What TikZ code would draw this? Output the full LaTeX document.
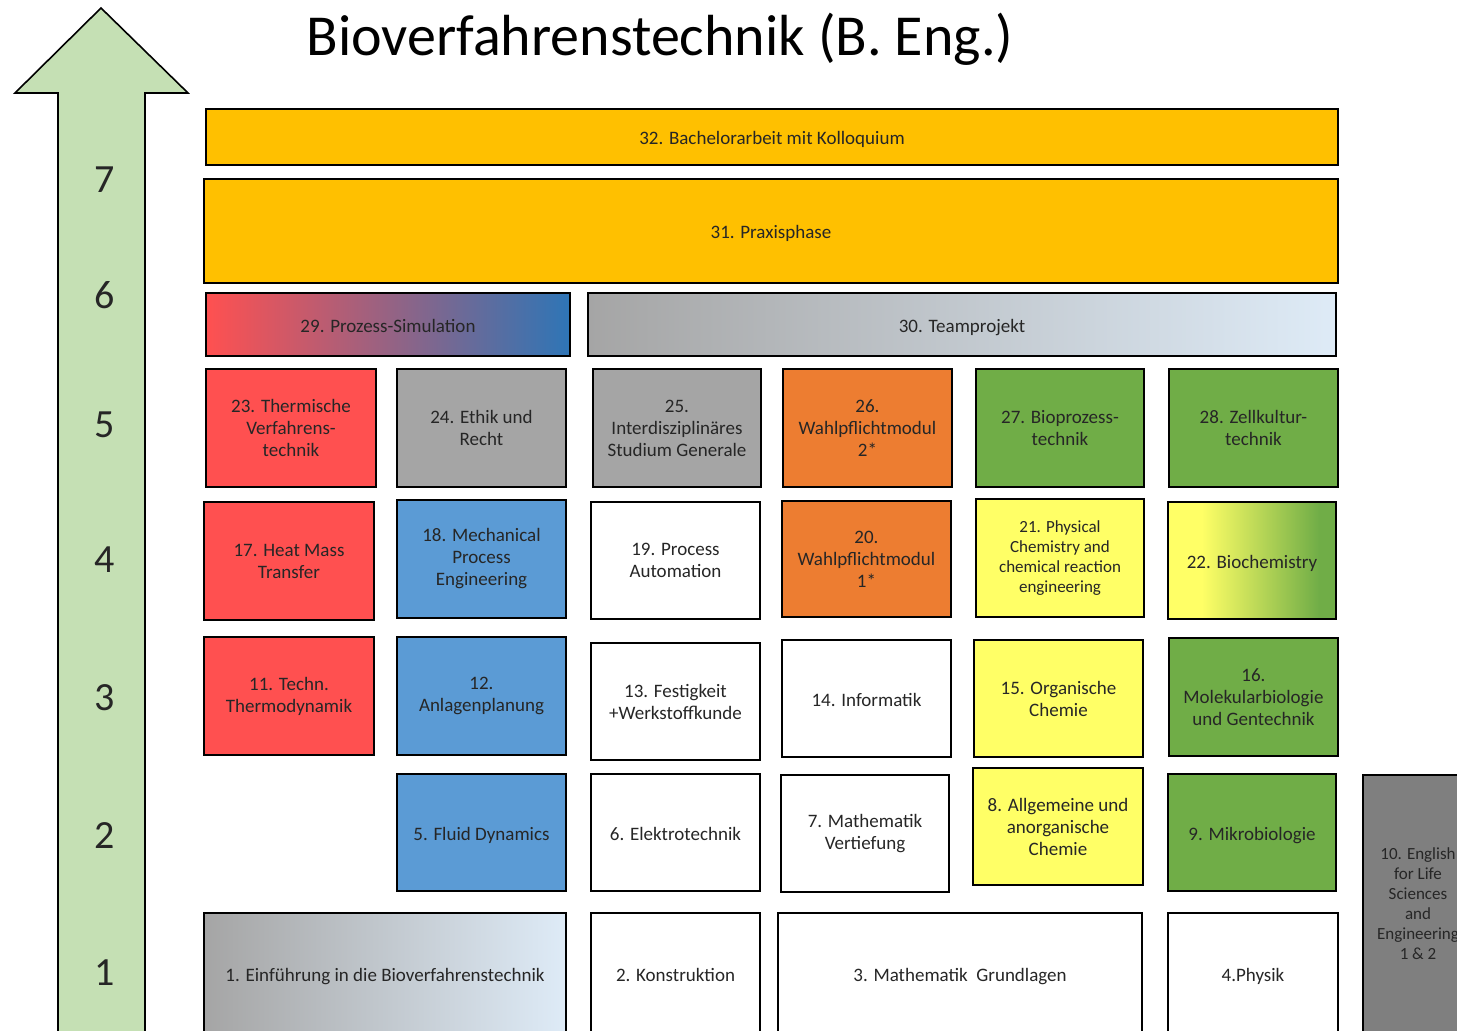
\documentclass[tikz,border=0pt]{standalone}
\usepackage{fontspec}
\setmainfont{Carlito}
\definecolor{mred}{HTML}{FF5050}
\definecolor{mblue}{HTML}{5B9BD5}
\definecolor{mgray}{HTML}{A5A5A5}
\definecolor{morange}{HTML}{ED7D31}
\definecolor{mgreen}{HTML}{70AD47}
\definecolor{myellow}{HTML}{FFFF66}
\definecolor{mamber}{HTML}{FFC000}
\definecolor{mdgray}{HTML}{7F7F7F}
\definecolor{mlblue}{HTML}{DEEBF7}
\definecolor{mdblue}{HTML}{2E75B6}
\definecolor{arrowgreen}{HTML}{C5E0B4}
\definecolor{txt}{HTML}{262626}
\pgfdeclarehorizontalshading{biochem}{100bp}{color(0bp)=(myellow); color(35bp)=(myellow); color(70bp)=(mgreen); color(100bp)=(mgreen)}
\newcommand\modbox[7]{\node[modstyle,#6,minimum width={(#4-#2)*0.5pt},minimum height={(#5-#3)*0.5pt}] (#1) at ({(#2+#4)/2},{(#3+#5)/2}) {#7};}
\tikzset{
  modstyle/.style={draw=black, line width=1.4pt, align=center, text=txt, inner sep=1pt, font=\fontsize{9.5}{11}\selectfont},
  smalltext/.style={font=\fontsize{8.5}{10}\selectfont},
  oneline/.style={text height=8pt, text depth=0pt},
  semnum/.style={font=\fontsize{20}{24}\selectfont, text=black!85},
  red/.style={fill=mred}, blue/.style={fill=mblue}, gray/.style={fill=mgray},
  orange/.style={fill=morange}, green/.style={fill=mgreen}, yellow/.style={fill=myellow},
  amber/.style={fill=mamber}, white/.style={fill=white}
}
\begin{document}
\begin{tikzpicture}[x=0.5pt,y=-0.5pt]
\useasboundingbox (0,0) rectangle (1457,1031);
\fill[white] (0,0) rectangle (1457,1031);
\clip (0,0) rectangle (1457,1031);
% arrow
\draw[fill=arrowgreen, line width=0.8pt, line join=miter] (58,1045) -- (58,93) -- (15,93) -- (101,8) -- (188,93) -- (145,93) -- (145,1045) -- cycle;
\node[semnum] (s7) at (105,180) {7};
\node[semnum] (s6) at (105,295) {6};
\node[semnum] (s5) at (105,425) {5};
\node[semnum] (s4) at (105,560) {4};
\node[semnum] (s3) at (105,698) {3};
\node[semnum] (s2) at (105,836) {2};
\node[semnum] (s1) at (105,973) {1};
% title
\node[font=\fontsize{29}{34}\selectfont, anchor=base, text=black] (title) at (660,56) {Bioverfahrenstechnik (B. Eng.)};
% top bars
\modbox{m32}{206}{109}{1338}{165}{amber,oneline}{32. Bachelorarbeit mit Kolloquium}
\modbox{m31}{204}{179}{1338}{283}{amber,oneline}{31. Praxisphase}
\modbox{m29}{206}{293}{570}{356}{left color=mred,right color=mdblue,oneline}{29. Prozess-Simulation}
\modbox{m30}{588}{293}{1336}{356}{left color=mgray,right color=mlblue,oneline}{30. Teamprojekt}
% row 5
\modbox{m23}{206}{369}{376}{487}{red}{23. Thermische\\Verfahrens-\\technik}
\modbox{m24}{397}{369}{566}{487}{gray}{24. Ethik und\\Recht}
\modbox{m25}{593}{369}{761}{487}{gray}{25.\\Interdisziplinäres\\Studium Generale}
\modbox{m26}{783}{369}{952}{487}{orange}{26.\\Wahlpflichtmodul\\2*}
\modbox{m27}{976}{369}{1144}{487}{green}{27. Bioprozess-\\technik}
\modbox{m28}{1169}{369}{1338}{487}{green}{28. Zellkultur-\\technik}
% row 4
\modbox{m17}{204}{502}{374}{620}{red}{17. Heat Mass\\Transfer}
\modbox{m18}{397}{500}{566}{618}{blue}{18. Mechanical\\Process\\Engineering}
\modbox{m19}{591}{502}{760}{619}{white}{19. Process\\Automation}
\modbox{m20}{782}{501}{951}{617}{orange}{20.\\Wahlpflichtmodul\\1*}
\modbox{m21}{976}{499}{1144}{617}{yellow,smalltext}{21. Physical\\Chemistry and\\chemical reaction\\engineering}
\modbox{m22}{1168}{502}{1336}{619}{shade,shading=biochem,oneline}{22. Biochemistry}
% row 3
\modbox{m11}{204}{637}{374}{755}{red}{11. Techn.\\Thermodynamik}
\modbox{m12}{397}{637}{566}{755}{blue}{12.\\Anlagenplanung}
\modbox{m13}{591}{643}{760}{760}{white}{13. Festigkeit\\+Werkstoffkunde}
\modbox{m14}{782}{640}{951}{757}{white,oneline}{14. Informatik}
\modbox{m15}{974}{640}{1143}{757}{yellow}{15. Organische\\Chemie}
\modbox{m16}{1169}{638}{1338}{756}{green}{16.\\Molekularbiologie\\und Gentechnik}
% row 2
\modbox{m5}{397}{774}{566}{891}{blue,oneline}{5. Fluid Dynamics}
\modbox{m6}{591}{774}{760}{891}{white,oneline}{6. Elektrotechnik}
\modbox{m7}{781}{775}{949}{892}{white}{7. Mathematik\\Vertiefung}
\modbox{m8}{973}{768}{1143}{885}{yellow}{8. Allgemeine und\\anorganische\\Chemie}
\modbox{m9}{1168}{774}{1336}{891}{green,oneline}{9. Mikrobiologie}
\modbox{m10}{1363}{775}{1473}{1033}{fill=mdgray,smalltext}{10. English\\for Life\\Sciences\\and\\Engineering\\1 \& 2}
% row 1
\modbox{m1}{204}{913}{566}{1033}{left color=mgray,right color=mlblue,oneline}{1. Einführung in die Bioverfahrenstechnik}
\modbox{m2}{591}{913}{760}{1033}{white,oneline}{2. Konstruktion}
\modbox{m3}{778}{913}{1142}{1033}{white,oneline}{3. Mathematik\ \ Grundlagen}
\modbox{m4}{1168}{913}{1338}{1033}{white,oneline}{4.Physik}
\end{tikzpicture}
\end{document}
